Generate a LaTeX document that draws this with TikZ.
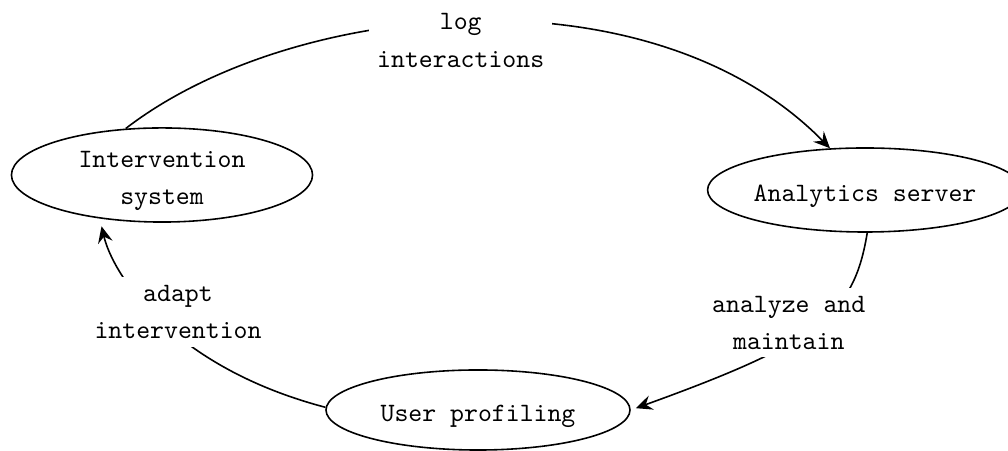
\documentclass[tikz,border=0pt]{standalone}
\usepackage{tikz}
\usetikzlibrary{shapes,arrows.meta}

\begin{document}
\begin{tikzpicture}[x=0.01326cm, y=-0.01326cm, >={Stealth[length=6.2pt, width=5.6pt, inset=2.2pt]}, semithick]
				\tikzstyle{every node}=[font=\ttfamily, align=center];
				\tikzstyle{stage}=[draw, shape=ellipse, inner sep=0pt];
				\tikzstyle{lowtext}=[text height=8.5pt, text depth=0pt];
				\tikzstyle{lbl}=[fill=white, inner sep=3pt];
				\useasboundingbox (0,0) rectangle (1008,451);
				\node [stage, minimum width=113.6pt, minimum height=35.5pt, text height=22pt, text depth=-3.5pt] (isys) at (162,175) {Intervention\\[2pt]system};
				\node [stage, lowtext, minimum width=115.5pt, minimum height=31.7pt] (aserv) at (865,190) {Analytics server};
				\node [stage, lowtext, minimum width=114.7pt, minimum height=30.2pt] (uprof) at (478,410) {User profiling};
				\draw[->] (isys.128) .. controls (292,0) and (650,-35) .. (aserv.130) node [lbl, pos=0.5, shift={(-12,19)}] (loglbl) {log\\[2pt]interactions};
				\draw[->, shorten >=2pt] (aserv.-87) .. controls (854,313) and (822,341) .. (uprof.east) node [lbl, pos=0.5, shift={(-27,-3)}] (anlbl) {analyze and\\[2pt]maintain};
				\draw[->, shorten >=3pt] (uprof.179) .. controls (172,367) and (113,275) .. (isys.-145) node [lbl, pos=0.5, shift={(18,-7)}] (adlbl) {adapt\\[2pt]intervention};
			\end{tikzpicture}
\end{document}
